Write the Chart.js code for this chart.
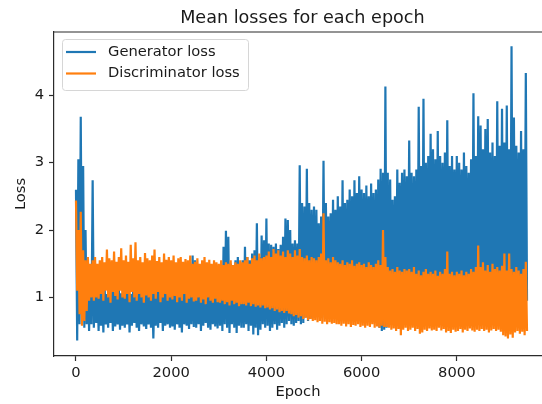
<!DOCTYPE html>
<html>
<head>
<meta charset="utf-8">
<script src="https://cdn.jsdelivr.net/npm/chart.js@4.4.1/dist/chart.umd.min.js"></script>
<style>
    html, body { margin: 0; padding: 0; background: #ffffff; }
    #wrap { width: 542px; height: 404px; }
</style>
</head>
<body>
<div id="wrap"><canvas id="lossChart" width="542" height="404"></canvas></div>
<script>
// one reading every 50 epochs: top and bottom of each band
const epochStep = 50;

const genUpper = [
    2.6, 3.05, 3.68, 2.95, 2.0, 1.55, 1.3, 2.74, 1.35, 1.2,
    1.15, 1.1, 1.2, 1.05, 1.12, 1.18, 1.08, 1.1, 1.15, 1.06,
    1.12, 1.1, 1.18, 1.05, 1.1, 1.14, 1.08, 1.2, 1.1, 1.12,
    1.1, 1.15, 1.08, 1.12, 1.2, 1.1, 1.05, 1.15, 1.12, 1.18,
    1.15, 1.1, 1.2, 1.12, 1.18, 1.25, 1.15, 1.2, 1.3, 1.62,
    1.55, 1.25, 1.3, 1.2, 1.35, 1.28, 1.3, 1.4, 1.32, 1.35,
    1.4, 1.45, 1.75, 1.99, 1.9, 1.5, 1.45, 1.55, 1.6, 1.5,
    1.55, 1.75, 1.6, 1.55, 1.65, 1.7, 2.1, 1.6, 1.92, 1.85,
    2.17, 1.8, 1.78, 1.75, 1.8, 1.72, 1.78, 1.9, 2.17, 2.15,
    2.0, 1.8, 1.85, 1.8, 2.96, 2.4, 2.35, 2.91, 2.4, 2.3,
    2.35, 2.3, 2.1, 2.2, 3.03, 2.4, 2.2, 2.25, 2.45, 2.3,
    2.5, 2.35, 2.74, 2.4, 2.45, 2.6, 2.5, 2.74, 2.55, 2.8,
    2.6, 2.55, 2.66, 2.5, 2.69, 2.55, 2.6, 2.75, 2.91, 2.85,
    4.13, 2.85, 2.75, 2.45, 2.5, 2.9, 2.7, 2.85, 2.9, 2.8,
    3.33, 2.85, 2.8, 2.9, 3.83, 2.95, 3.95, 3.0, 3.1, 3.43,
    3.2, 3.05, 3.47, 3.1, 3.0, 3.15, 3.63, 2.95, 3.1, 2.9,
    3.1, 3.0, 2.9, 3.15, 2.95, 2.85, 3.05, 4.03, 3.1, 3.69,
    3.55, 3.2, 3.5, 3.65, 3.15, 3.3, 3.1, 3.91, 3.25, 3.8,
    3.3, 3.85, 3.2, 4.73, 3.67, 3.25, 3.15, 3.47, 3.2, 4.33
];

const genLower = [
    0.36, 0.6, 0.75, 0.55, 0.6, 0.5, 0.6, 0.55, 0.62, 0.5,
    0.58, 0.48, 0.6, 0.55, 0.62, 0.5, 0.57, 0.6, 0.52, 0.58,
    0.55, 0.6, 0.48, 0.58, 0.62, 0.55, 0.5, 0.6, 0.57, 0.53,
    0.6, 0.55, 0.39, 0.58, 0.55, 0.62, 0.5, 0.58, 0.6, 0.55,
    0.57, 0.52, 0.6, 0.55, 0.48, 0.6, 0.58, 0.53, 0.6, 0.56,
    0.55, 0.6, 0.5, 0.58, 0.62, 0.55, 0.52, 0.6, 0.57, 0.54,
    0.58, 0.5, 0.6, 0.55, 0.47, 0.6, 0.55, 0.47, 0.58, 0.55,
    0.55, 0.6, 0.5, 0.58, 0.45, 0.55, 0.44, 0.52, 0.6, 0.55,
    0.58, 0.5, 0.55, 0.6, 0.52, 0.58, 0.62, 0.55, 0.6, 0.65,
    0.6, 0.58, 0.62, 0.65, 0.6, 0.62, 0.7, 0.65, 0.68, 0.7,
    0.7, 0.75, 0.72, 0.8, 0.7, 0.75, 0.78, 0.72, 0.8, 0.75,
    0.8, 0.78, 0.82, 0.75, 0.8, 0.85, 0.78, 0.8, 0.82, 0.8,
    0.85, 0.8, 0.82, 0.78, 0.75, 0.7, 0.6, 0.55, 0.5, 0.52,
    0.55, 0.75, 0.85, 0.9, 0.85, 0.9, 0.88, 0.92, 0.9, 0.95,
    0.95, 0.9, 0.98, 0.92, 1.0, 0.95, 0.9, 0.97, 0.93, 1.0,
    0.95, 0.92, 1.0, 0.95, 0.9, 0.98, 0.93, 1.0, 0.95, 0.97,
    0.92, 0.98, 0.95, 1.0, 0.93, 0.97, 0.95, 0.92, 1.0, 0.96,
    0.98, 0.93, 1.0, 0.95, 0.97, 0.92, 1.0, 0.95, 0.98, 0.94,
    0.97, 1.0, 0.93, 0.98, 0.95, 1.02, 0.96, 0.93, 1.0, 0.95
];

const discUpper = [
    2.44, 2.0, 2.27, 1.7, 1.55, 1.6, 1.5, 1.55, 1.6, 1.5,
    1.55, 1.6, 1.52, 1.71, 1.58, 1.55, 1.68, 1.53, 1.6, 1.73,
    1.55, 1.62, 1.53, 1.78, 1.58, 1.82, 1.55, 1.6, 1.52, 1.66,
    1.58, 1.55, 1.62, 1.71, 1.54, 1.6, 1.52, 1.65, 1.56, 1.6,
    1.55, 1.62, 1.52, 1.58, 1.6, 1.53, 1.57, 1.55, 1.62, 1.5,
    1.53, 1.58, 1.5, 1.55, 1.6, 1.52, 1.56, 1.5, 1.55, 1.52,
    1.5, 1.55, 1.48, 1.52, 1.5, 1.55, 1.48, 1.52, 1.5, 1.55,
    1.52, 1.55, 1.6, 1.5, 1.58, 1.62, 1.55, 1.65, 1.58, 1.6,
    1.62, 1.68, 1.6, 1.72, 1.65, 1.7, 1.62, 1.68, 1.6, 1.7,
    1.65, 1.6, 1.7, 1.62, 1.72, 1.6, 1.58, 1.62, 1.55, 1.6,
    1.58, 1.55, 1.6, 1.65, 2.25, 1.55, 1.58, 1.52, 1.6, 1.55,
    1.52, 1.5, 1.55, 1.48, 1.52, 1.5, 1.55, 1.47, 1.5, 1.52,
    1.48, 1.5, 1.45, 1.52, 1.48, 1.45, 1.5, 1.55, 1.48, 2.0,
    1.6, 1.45, 1.4, 1.42, 1.38, 1.45, 1.4, 1.38, 1.42, 1.4,
    1.42, 1.38, 1.45, 1.35, 1.4, 1.33, 1.38, 1.42, 1.35, 1.38,
    1.35, 1.4, 1.32, 1.38, 1.35, 1.42, 1.68, 1.35, 1.38, 1.33,
    1.38, 1.35, 1.4, 1.33, 1.38, 1.35, 1.42, 1.38, 1.45, 1.77,
    1.45, 1.52, 1.4, 1.48, 1.38, 1.5, 1.42, 1.45, 1.4, 1.47,
    1.65, 1.4, 1.65, 1.42, 1.38, 1.45, 1.4, 1.35, 1.42, 1.53
];

const discLower = [
    1.1, 0.75, 0.58, 0.65, 0.8, 0.95, 1.0, 0.95, 1.0, 0.98,
    1.05, 0.95, 1.1, 1.0, 0.92, 1.08, 1.02, 0.97, 1.1, 1.0,
    0.98, 1.05, 0.93, 1.08, 1.0, 0.95, 1.05, 1.0, 0.92, 1.03,
    1.0, 0.95, 1.05, 0.98, 1.08, 0.93, 1.0, 1.05, 0.95, 1.0,
    0.97, 1.02, 0.93, 1.0, 0.95, 1.05, 0.92, 0.98, 1.0, 0.94,
    0.95, 1.0, 0.92, 0.97, 0.9, 1.0, 0.95, 0.92, 0.98, 0.93,
    0.92, 0.95, 0.9, 0.93, 0.88, 0.95, 0.9, 0.92, 0.87, 0.9,
    0.9, 0.88, 0.92, 0.87, 0.9, 0.86, 0.88, 0.85, 0.88, 0.84,
    0.85, 0.82, 0.84, 0.8, 0.82, 0.78, 0.8, 0.77, 0.8, 0.76,
    0.75, 0.72, 0.74, 0.7, 0.72, 0.68, 0.7, 0.66, 0.68, 0.65,
    0.66, 0.63, 0.65, 0.61, 0.64, 0.6, 0.63, 0.61, 0.62, 0.6,
    0.6, 0.58, 0.61, 0.57, 0.6, 0.56, 0.59, 0.58, 0.6, 0.56,
    0.58, 0.55, 0.58, 0.56, 0.6, 0.55, 0.57, 0.55, 0.58, 0.56,
    0.56, 0.55, 0.52, 0.54, 0.5, 0.53, 0.44, 0.52, 0.55, 0.5,
    0.52, 0.55, 0.5, 0.53, 0.46, 0.48, 0.52, 0.5, 0.54, 0.51,
    0.52, 0.5, 0.55, 0.51, 0.53, 0.48, 0.5, 0.47, 0.52, 0.49,
    0.5, 0.53, 0.48, 0.52, 0.5, 0.54, 0.51, 0.49, 0.52, 0.5,
    0.53, 0.5, 0.52, 0.48, 0.51, 0.53, 0.5, 0.52, 0.49, 0.44,
    0.42, 0.39, 0.45, 0.4, 0.48, 0.5, 0.46, 0.49, 0.44, 0.5
];

const xTicks = [0, 2000, 4000, 6000, 8000];
const yTicks = [1, 2, 3, 4];

const seriesLabels = ["Generator loss", "Discriminator loss"];
const seriesColors = ["#1f77b4", "#ff7f0e"];

const xMin = -462;
const xMax = 9790;
const fullAxisRight = 9975; // the original axes go a bit past the cropped edge
const yMin = 0.13;
const yMax = 4.94;

const fontFamily = "'DejaVu Sans', Verdana, sans-serif";
const textColor = "#1a1a1a";
const spineColor = "#2b2b2b";

// alternate the top and bottom readings so the line sweeps the whole band
function bandPoints(upper, lower) {
    const points = [];
    upper.forEach((hi, i) => {
        const epoch = i * epochStep;
        points.push({ x: epoch, y: hi });
        points.push({ x: epoch + epochStep / 2, y: lower[i] });
    });
    return points;
}

const framePlugin = {
    id: "frame",
    afterDraw(chart) {
        const { ctx, chartArea, scales } = chart;
        ctx.save();

        // top spine
        ctx.strokeStyle = spineColor;
        ctx.lineWidth = 1.2;
        ctx.beginPath();
        ctx.moveTo(chartArea.left, chartArea.top);
        ctx.lineTo(chartArea.right, chartArea.top);
        ctx.stroke();

        // title centred on the full (uncropped) axes
        const centerX = (chartArea.left + scales.x.getPixelForValue(fullAxisRight)) / 2;
        ctx.fillStyle = textColor;
        ctx.font = `17.6px ${fontFamily}`;
        ctx.textAlign = "center";
        ctx.textBaseline = "alphabetic";
        ctx.fillText("Mean losses for each epoch", centerX, 23);

        // legend
        const box = { x: 62, y: 39, w: 186, h: 51 };
        ctx.beginPath();
        ctx.roundRect(box.x + 0.5, box.y + 0.5, box.w, box.h, 3);
        ctx.fillStyle = "rgba(255, 255, 255, 0.8)";
        ctx.fill();
        ctx.strokeStyle = "#d6d6d6";
        ctx.lineWidth = 1;
        ctx.stroke();

        ctx.font = `14.7px ${fontFamily}`;
        ctx.textAlign = "left";
        ctx.textBaseline = "middle";
        chart.data.datasets.forEach((ds, i) => {
            const rowY = 52 + i * 21.5;
            ctx.strokeStyle = ds.borderColor;
            ctx.lineWidth = 2.2;
            ctx.beginPath();
            ctx.moveTo(66, rowY);
            ctx.lineTo(96, rowY);
            ctx.stroke();
            ctx.fillStyle = textColor;
            ctx.fillText(ds.label, 108, rowY);
        });

        ctx.restore();
    }
};

const canvas = document.getElementById("lossChart");

new Chart(canvas, {
    type: "line",
    data: {
        datasets: [
            {
                label: seriesLabels[0],
                data: bandPoints(genUpper, genLower),
                borderColor: seriesColors[0],
                borderWidth: 2.2,
                pointRadius: 0,
                tension: 0,
                fill: false,
                order: 1
            },
            {
                label: seriesLabels[1],
                data: bandPoints(discUpper, discLower),
                borderColor: seriesColors[1],
                borderWidth: 2.2,
                pointRadius: 0,
                tension: 0,
                fill: false,
                order: 0
            }
        ]
    },
    options: {
        responsive: false,
        animation: false,
        events: [],
        layout: {
            padding: { top: 32, right: 0, bottom: 0, left: 0 }
        },
        plugins: {
            legend: { display: false },
            title: { display: false },
            tooltip: { enabled: false }
        },
        scales: {
            x: {
                type: "linear",
                min: xMin,
                max: xMax,
                afterBuildTicks: scale => {
                    scale.ticks = xTicks.map(value => ({ value }));
                },
                afterFit: scale => {
                    scale.height = 48;
                },
                border: { display: true, color: spineColor, width: 1.2 },
                grid: {
                    display: true,
                    drawOnChartArea: false,
                    drawTicks: true,
                    tickLength: 5,
                    tickColor: spineColor,
                    tickWidth: 1.2
                },
                ticks: {
                    color: textColor,
                    padding: 3,
                    maxRotation: 0,
                    font: { family: fontFamily, size: 14.7 },
                    callback: value => String(value)
                },
                title: {
                    display: true,
                    text: "Epoch",
                    color: textColor,
                    font: { family: fontFamily, size: 14.7 },
                    padding: { top: 0, bottom: 3 }
                }
            },
            y: {
                type: "linear",
                min: yMin,
                max: yMax,
                afterBuildTicks: scale => {
                    scale.ticks = yTicks.map(value => ({ value }));
                },
                afterFit: scale => {
                    scale.width = 54;
                },
                border: { display: true, color: spineColor, width: 1.2 },
                grid: {
                    display: true,
                    drawOnChartArea: false,
                    drawTicks: true,
                    tickLength: 5,
                    tickColor: spineColor,
                    tickWidth: 1.2
                },
                ticks: {
                    color: textColor,
                    padding: 5,
                    font: { family: fontFamily, size: 14.7 },
                    callback: value => String(value)
                },
                title: {
                    display: true,
                    text: "Loss",
                    color: textColor,
                    font: { family: fontFamily, size: 14.7 },
                    padding: { top: 12, bottom: 0 }
                }
            }
        }
    },
    plugins: [framePlugin]
});
</script>
</body>
</html>
